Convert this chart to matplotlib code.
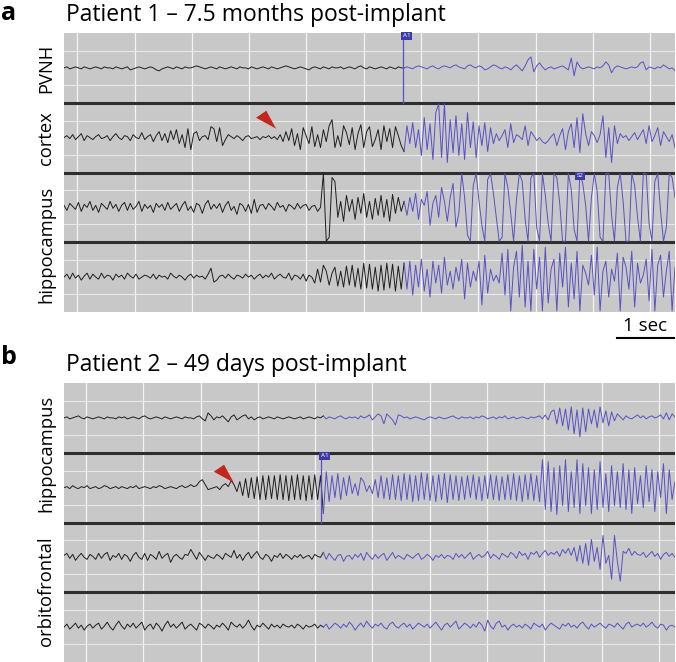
import numpy as np
import matplotlib
matplotlib.use("Agg")
import matplotlib.pyplot as plt
from matplotlib.patches import Polygon

plt.rcParams['font.family'] = ['Open Sans', 'DejaVu Sans']

# ---- data (trace deflections, one sample every ~0.05 s) ----
# panel a: Patient 1
a_title = "Patient 1 \u2013 7.5 months post-implant"
a_window = (-0.23, 10.43)   # seconds shown
a_onset = 5.68              # seizure onset marker A1 (s)
a_pvnh = [
    0, 1, -1, 0, 1, 0, -1, 1, 0, -1,
    0, 1, 0, -1, 1, 0, 0, -1, 1, 0,
    -1, 0, 1, -2, -1, 0, 1, 0, -1, 0,
    1, 0, -2, -3, -1, 0, 1, 0, -1, 1,
    0, -1, 1, 0, 0, 1, 2, 1, 0, -1,
    0, 1, 0, -1, 1, 0, -1, 0, 1, 0,
    -1, 1, 0, 0, -1, 1, 0, -1, 0, 1,
    0, -1, 1, 0, -1, 0, 1, 2, 1, 0,
    -1, 0, 1, 0, -1, -2, 0, 1, 0, -1,
    1, 0, -1, 1, 0, 0, 1, -1, 0, 1,
    0, -1, 1, 2, 0, -1, 1, 0, -1, 0,
    1, 0, -1, 1, 0, -1, 1, 0,
    0, 1, 0, -1, 1, 2, 1, 0, -1, 1,
    2, 0, -1, 1, 2, 1, 0, 2, 3, 1,
    0, -1, 2, 3, 1, 0, 2, 1, -2, -1,
    1, 3, 2, 0, -1, 1, 0, -2, 1, 3,
    0, -3, 2, 8, 11, -4, 2, 5, 1, -2,
    0, 1, -1, 0, 1, 2, 0, -2, 10, -8,
    6, 1, -1, 0, 1, 0, -1, 1, 0, 2,
    6, 3, -5, 0, 2, 1, 0, -1, 0, 1,
    0, 1, 5, 6, -2, 1, 0, -1, 1, 0,
    3, 1, -1, 0, -3,
]
a_cortex = [
    0, 2, -1, 3, -2, 1, 4, -3, 2, 0,
    -2, 1, 3, -1, 0, 2, -3, 1, 4, 0,
    -2, 2, 1, -3, 3, 0, -1, 5, -2, 1,
    3, -4, 2, 6, -3, 4, -5, 7, -2, 8,
    -6, 3, -10, 9, -12, 4, 6, -3, 1, 2,
    -2, 11, 9, -4, 10, -8, -2, 3, 1, -1,
    2, 0, -3, 1, 2, -1, 0, 1, -2, 1,
    0, 2, -1, 1, -2, 3, -4, 6, -3, 9,
    -8, 4, -12, 10, 2, -6, 11, -9, 3, -10,
    8, -4, 12, 18, -10, 2, -9, 12, 5, -7,
    10, -12, 4, 13, -10, 6, 11, -9, -2, 8,
    -12, 12, -4, 9, -10, 11, 2, -8,
    -14, 12, -6, 15, -10, 8, -18, 20, -12, 14,
    -22, 25, 35, -20, 35, -25, 18, -15, 22, -18,
    14, -22, 25, -10, 16, -20, 12, -8, 15, -14,
    10, -6, 4, -3, 2, 8, -10, 14, -5, 3,
    1, -2, 12, -8, 6, 2, -3, 0, -4, -6,
    -3, 1, 4, -8, 2, 9, -12, 6, 14, -10,
    20, -15, 24, 4, -8, 6, 2, -5, 3, 22,
    -20, 10, -25, 12, -6, 4, 0, 2, -3, 1,
    5, -2, 3, 8, -6, 12, -4, 2, 10, -8,
    6, 1, -4, 3, -10,
]
a_hippo1 = [
    2, -3, 4, 1, -2, 5, -4, 3, 0, 6,
    -3, 2, -5, 4, 1, -2, 6, -1, 3, -4,
    2, 5, -3, 4, -2, 1, 6, -4, 3, -1,
    2, -5, 4, 0, 3, -3, 5, -2, 1, 4,
    -4, 2, 6, -3, 1, -5, 4, 2, -6, 3,
    7, -2, 3, -1, 4, -5, 2, 6, -3, 1,
    -7, 4, 2, -4, 3, -6, 8, -5, 2, 3,
    -2, 4, 1, -3, 5, 0, 2, -4, 3, 1,
    -2, 4, -1, 2, 3, -3, 1, 2, -4, 0,
    34, -34, -30, 30, 26, -10, 6, -14, 12, -4,
    8, -12, 10, -6, 14, -10, 6, -12, 9, -8,
    12, -10, 8, -14, 13, -6, 10, -4,
    6, -8, 10, -4, 14, -12, 8, 2, 16, -18,
    4, 12, -10, 20, 6, -14, 10, 24, -20, -6,
    34, 10, -28, -34, 22, 34, 6, -18, -34, 28,
    34, 14, -10, -34, -30, 34, 20, -6, -34, 8,
    34, 26, -12, -34, 30, 34, -20, -34, 34, 12,
    -16, -34, 34, 30, 4, -34, -34, 34, 18, -22,
    -34, 34, 24, 2, -34, 10, 34, 16, -30, -34,
    34, 34, -8, -34, 20, 34, 6, -34, -34, 34,
    22, -10, -34, 34, 34, -16, -34, 26, 34, -4,
    -34, -20, 34, 30, 10,
]
a_hippo2 = [
    0, 3, -2, 4, -1, 2, -3, 1, 4, -2,
    3, 0, -2, 4, -1, 2, 1, -3, 3, 0,
    2, -2, 4, 1, -1, 3, -2, 0, 2, 1,
    -1, 3, -2, 2, 0, 1, -2, 4, 1, -1,
    2, 0, -3, 1, 3, -1, 2, 0, 1, -2,
    3, 9, -5, -3, 1, 2, -1, 3, 0, -2,
    2, 1, -1, 3, 0, 2, -2, 1, 3, -1,
    2, 0, 4, -2, 1, 3, 0, -1, 4, -3,
    2, 1, -2, 3, -4, 2, 0, -6, 8, -5,
    12, 6, -8, 4, 10, -9, 6, -10, 11, -8,
    12, -10, 9, -12, 14, -11, 13, -12, 10, -14,
    12, -13, 14, -11, 13, -14, 11, -12,
    14, -12, 16, -18, 12, -10, 18, -14, 8, -20,
    16, -6, 12, -16, 20, -8, 6, -12, 10, -4,
    18, -22, 14, -10, 6, -4, 16, -28, 22, -16,
    8, -4, 2, -6, 24, -18, 28, -34, 10, 26,
    -20, 32, -30, 16, -34, 28, -12, 20, -34, 30,
    -26, 8, 18, -34, 24, -10, 30, -30, 14, -22,
    26, -34, 12, 4, -8, 22, -18, 30, -34, 6,
    16, -20, 8, -4, 24, -34, 20, 10, -12, 26,
    -30, 14, -6, 2, 18, -24, 28, -34, 12, 22,
    -20, 6, 26, -34, 10,
]
a_arrow = (3.47, 184)      # red arrowhead tip (s, trace units)
a_s2 = (8.71, 139)         # S2 event marker

# panel b: Patient 2
b_title = "Patient 2 \u2013 49 days post-implant"
b_window = (-0.384, 10.28)
b_onset = 4.10
b_hippo1 = [
    0, 1, -1, 0, 1, 2, 0, -1, 1, 0,
    -1, 0, 1, 0, -1, 1, 0, 0, -1, 1,
    0, 1, -1, 0, 1, 0, -1, 1, 2, 0,
    -1, 0, 1, 0, -1, 1, 0, -1, 0, 1,
    0, -1, 1, 0, 0, -1, 1, 2, -1, -3,
    5, 2, -2, 1, 0, 2, -1, -4, 1, 3,
    -2, 0, 2, 3, -1, 1, -2, 0, 1, -1,
    0, 1, 0, -1, 1, 0, -1, 0, 1, 0,
    -1, 0, 1, -1, 0, 1, 0, -1, 1, 0,
    2, -1, 1, 0, -1, 1, 2, 0, -1, 1,
    0, 1, -1, 2, 0, 1, 3, -2, 1, 4,
    2, -6, 4, 1, -2, -7, 3, 2, 0, 1,
    -1, 0, 1, 0, -1, -2, 0, 1, 0, -1,
    1, 0, -1, 0, 1, 2, 0, -1, 1, 0,
    0, 1, -1, 1, 0, 2, 1, -1, 0, 1,
    -1, 1, 0, 2, -1, 0, 1, -1, 0, 1,
    0, -1, 1, 0, 1, 2, -1, 3, -2, 6,
    8, -6, 10, -8, 9, -12, 11, -16, 8, -19,
    10, -14, 9, -6, 8, -10, 11, -5, 7, -8,
    6, -3, 4, 1, -2, 2, 0, -1, 1, 3,
    0, 2, -1, 1, 2, 0, 1, 3, -1, 5,
    -2, 4, 1,
]
b_hippo2 = [
    0, 1, -1, 2, 0, -1, 1, 0, 2, -1,
    0, 1, -1, 0, 2, 1, -1, 0, 1, -1,
    1, 0, -1, 1, 0, 2, -1, 0, 1, 0,
    -1, 1, 0, 2, 1, -1, 0, 1, 0, -1,
    1, 2, 0, 1, 3, 1, 2, 6, 8, 3,
    -2, -1, 0, 1, -2, 2, 4, 1, 7, 3,
    -4, 6, -8, 9, -10, 10, -11, 11, -12, 12,
    -12, 12, -11, 12, -12, 13, -12, 12, -13, 12,
    -12, 13, -12, 12, -13, 12, -12, 13, -12, 12,
    -26, 16, -14, 12, -10, 14, -12, 10, -8, 12,
    -6, 4, -8, 10, 6, -4, 2, -6, 8, -10,
    12, -11, 10, -12, 13, -12, 12, -13, 14, -12,
    13, -14, 12, -13, 15, -12, 14, -13, 12, -14,
    13, -12, 14, -15, 13, -12, 12, -13, 11, -12,
    12, -10, 13, -12, 11, -13, 12, -11, 13, -12,
    12, -13, 11, -12, 13, -12, 14, -13, 12, -14,
    13, -12, 14, -13, 12, -14, 28, -22, 26, -24,
    20, -27, 22, -18, 28, -24, 16, -20, 28, -26,
    24, -18, 20, -26, 18, -22, 26, -20, 14, -24,
    22, -18, 16, -20, 24, -22, 18, -26, 20, -16,
    12, -20, 22, -14, 18, -24, 16, -10, 24, -26,
    18, -12, 6,
]
b_orbito1 = [
    2, 4, -1, 3, -3, 1, 4, 0, -2, 3,
    1, -2, 4, -1, 3, 5, -3, 2, 0, 4,
    -2, 3, 1, -4, 2, 5, 0, -2, 4, -3,
    3, 1, -2, 6, -1, 2, 4, -5, 1, 3,
    0, -2, 3, 2, 8, 3, -2, 5, 1, -3,
    2, 0, -1, 3, 1, -2, 4, 2, 0, 7,
    -1, 3, -3, 2, 5, -1, 3, 6, 0, -2,
    3, 1, -4, 2, 0, 4, -1, 3, 1, -2,
    2, 0, 3, -1, 1, 2, -2, 3, 1, 0,
    5, -2, 4, 0, -3, 2, 3, -4, 1, 2,
    -2, 3, 0, 4, -3, 5, 1, -2, 3, -1,
    2, 4, -3, 1, 5, -1, 2, 0, -2, 3,
    1, -1, 2, 4, -2, 0, 3, 1, -3, 2,
    0, 3, -1, 2, 1, -2, 4, 0, 3, -1,
    2, 5, -2, 1, 3, 0, 2, 6, -1, 3,
    1, -2, 4, 2, 0, 5, 3, -1, 6, 2,
    4, -2, 5, 3, 6, 0, 4, 7, 2, 5,
    3, 6, 1, 8, 4, 9, 2, 10, -4, 12,
    -6, 14, -8, 18, -4, 10, -12, 22, -6, 2,
    -22, 22, -4, -24, 6, 4, 9, 2, 6, 3,
    2, 5, 0, 3, 6, 1, 4, -2, 3, 5,
    1, 4, 0,
]
b_orbito2 = [
    0, 3, -2, 1, 4, -1, 2, -3, 1, 3,
    -1, 2, 4, -2, 1, 5, 0, -3, 2, 6,
    1, -2, 3, 0, 4, -1, 2, 5, -3, 1,
    3, -2, 4, 1, -4, 2, 6, 0, 3, -1,
    2, 5, -2, 1, 3, 0, -3, 4, 2, -1,
    3, 1, -2, 2, 0, 4, 1, -3, 5, 2,
    0, 3, -1, 2, 7, 1, -3, 2, 0, 4,
    1, -2, 3, 0, 2, -1, 3, 1, 0, 2,
    -1, 3, 1, -2, 2, 0, 1, 3, -1, 2,
    0, 3, -2, 1, 4, 2, -1, 3, 0, 5,
    2, -3, 1, 4, 0, 6, 2, -1, 3, 1,
    4, 0, -2, 3, 5, 1, -1, 2, 4, 0,
    3, -2, 1, 4, 2, 0, 3, -1, 2, 5,
    1, -3, 2, 4, 0, 3, 6, -2, 1, 4,
    2, -1, 3, 0, 5, 2, -4, 7, 1, -2,
    4, 6, 0, 2, -3, 1, 3, 0, 2, -1,
    3, 1, -2, 4, 2, 0, 3, -3, 1, 4,
    2, 0, -2, 3, 1, 4, 0, 2, -1, 3,
    5, 1, -2, 3, 0, 2, 4, 1, -1, 3,
    2, 0, 4, 1, -2, 3, 5, 0, 2, 3,
    1, 4, 0, 2, 5, 1, -1, 3, 2, -3,
    1, 2, 0,
]
b_arrow = (2.58, 180)

BG = '#c8c8c8'
BLACK = '#1e1e1e'
BLUE = '#5850c4'
SEP = '#2e2e2e'
CH = 70          # height of one channel row
TOP = 4 * CH


def setup_panel(ax, window):
    ax.set_xlim(*window)
    ax.set_ylim(0, TOP)
    ax.set_facecolor(BG)
    for s in ax.spines.values():
        s.set_visible(False)
    ax.set_xticks([])
    ax.set_yticks([])
    for k in range(11):
        ax.axvline(k, color='#f4f4f4', lw=0.9, zorder=1)
    for c in range(4):
        mid = TOP - CH / 2 - c * CH
        ax.axhline(mid + 17, color='#e9e9e9', lw=0.8, zorder=1)
        ax.axhline(mid - 17, color='#e9e9e9', lw=0.8, zorder=1)
    for c in range(1, 4):
        ax.axhline(TOP - c * CH, color=SEP, lw=2.2, zorder=2)


def draw_trace(ax, window, values, row, onset):
    y = np.clip(np.asarray(values, float), -34, 34) + TOP - CH / 2 - row * CH
    t = np.linspace(window[0], window[1], len(y))
    k = np.searchsorted(t, onset)
    ax.plot(t[:k + 1], y[:k + 1], color=BLACK, lw=0.7, zorder=3)
    ax.plot(t[k:], y[k:], color=BLUE, lw=0.7, zorder=3)


def marker(ax, x, y, label):
    ax.text(x, y, label, fontsize=4.5, color='white', ha='left', va='top',
            zorder=5, bbox=dict(boxstyle='square,pad=0.25', fc='#3c3aa6', ec='none'))


def arrowhead(ax, tip):
    tx, ty = tip
    ax.add_patch(Polygon([(tx, ty), (tx - 0.35, ty + 11), (tx - 0.17, ty + 18)],
                         closed=True, fc='#c3261d', ec='none', zorder=6))


fig = plt.figure(figsize=(6.76, 6.62), dpi=100)
ax_a = fig.add_axes([64 / 676, 1 - 312 / 662, 611 / 676, 279 / 662])
ax_b = fig.add_axes([64 / 676, 0, 611 / 676, 279 / 662])

# panel a
setup_panel(ax_a, a_window)
for row, vals in enumerate([a_pvnh, a_cortex, a_hippo1, a_hippo2]):
    draw_trace(ax_a, a_window, vals, row, a_onset)
ax_a.plot([a_onset, a_onset], [TOP, TOP - CH], color=BLUE, lw=0.9, zorder=4)
marker(ax_a, a_onset, TOP - 0.5, "A1")
marker(ax_a, a_s2[0], a_s2[1], "S2")
arrowhead(ax_a, a_arrow)

# scale bar 1 s
ax_a.plot([9.42, 10.42], [-26, -26], color='black', lw=1.5, clip_on=False)
ax_a.text(9.90, -19, "1 sec", ha='center', va='baseline', fontsize=13.5)

# panel b
setup_panel(ax_b, b_window)
for row, vals in enumerate([b_hippo1, b_hippo2, b_orbito1, b_orbito2]):
    draw_trace(ax_b, b_window, vals, row, b_onset)
ax_b.plot([b_onset, b_onset], [TOP - CH, TOP - 2 * CH], color=BLUE, lw=0.9, zorder=4)
marker(ax_b, b_onset, TOP - CH - 0.5, "A1")
arrowhead(ax_b, b_arrow)

# titles and channel labels
fig.text(1 / 676, 1 - 20 / 662, "a", fontsize=18, fontweight='bold', va='baseline')
fig.text(66 / 676, 1 - 21 / 662, a_title, fontsize=16.5, va='baseline')
fig.text(1 / 676, 1 - 364 / 662, "b", fontsize=18, fontweight='bold', va='baseline')
fig.text(66 / 676, 1 - 371 / 662, b_title, fontsize=16.5, va='baseline')

for name, ypx in [("PVNH", 68), ("cortex", 138), ("hippocampus", 244),
                  ("hippocampus", 453), ("orbitofrontal", 591)]:
    fig.text(46 / 676, 1 - ypx / 662, name, rotation=90, ha='center', va='center',
             fontsize=13.2)

fig.savefig("out.png", dpi=100)
